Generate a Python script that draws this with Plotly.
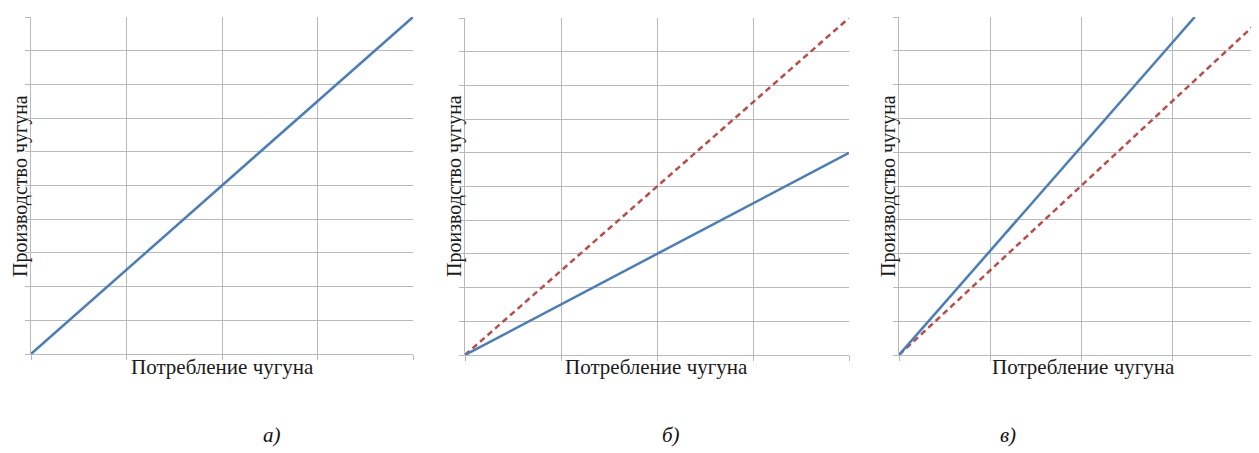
import plotly.graph_objects as go

# The page body has an 8px default margin; compensate
OFF = 8
W, H = 1259 - OFF, 453 - OFF

# Data
a_blue_x = [0, 4]
a_blue_y = [0, 10]

b_red_x = [0, 4]
b_red_y = [0, 10]
b_blue_x = [0, 4]
b_blue_y = [0, 6]

c_red_x = [0, 4]
c_red_y = [0, 10]
c_blue_x = [0, 3.25]
c_blue_y = [0, 10]

x_title = "Потребление чугуна"
y_title = "Производство чугуна"
panel_labels = ["а)", "б)", "в)"]

BLUE = "#4A7EBB"
RED = "#BE4B48"
GRID = "#B9B9B9"
FONT = "Liberation Serif"

def px_x(p):
    return (p - OFF) / W

def px_y(p):
    return (H - (p - OFF)) / H

fig = go.Figure()

panels = [
    dict(xd=(31, 413), yd=(17, 354), xr=[0, 4]),
    dict(xd=(465, 849), yd=(18, 355), xr=[0, 4]),
    dict(xd=(899, 1259), yd=(17, 355), xr=[0, 4 * (1259 - 899) / (1263 - 899)]),
]

for i, p in enumerate(panels):
    sfx = "" if i == 0 else str(i + 1)
    fig.update_layout({
        "xaxis" + sfx: dict(
            domain=[px_x(p["xd"][0]), min(1.0, px_x(p["xd"][1]))],
            range=p["xr"], dtick=1, tick0=0,
            showgrid=True, gridcolor=GRID, gridwidth=1,
            showline=True, linecolor=GRID, linewidth=1,
            ticks="outside", ticklen=5, tickcolor=GRID,
            showticklabels=False, zeroline=False,
            anchor="y" + sfx, fixedrange=True,
        ),
        "yaxis" + sfx: dict(
            domain=[px_y(p["yd"][1]), px_y(p["yd"][0])],
            range=[0, 10], dtick=1, tick0=0,
            showgrid=True, gridcolor=GRID, gridwidth=1,
            showline=True, linecolor=GRID, linewidth=1,
            ticks="outside", ticklen=5, tickcolor=GRID,
            showticklabels=False, zeroline=False,
            anchor="x" + sfx, fixedrange=True,
        ),
    })

def add_line(x, y, idx, color, dash=None):
    sfx = "" if idx == 0 else str(idx + 1)
    fig.add_trace(go.Scatter(
        x=x, y=y, mode="lines",
        line=dict(color=color, width=2.5, dash=dash),
        xaxis="x" + sfx, yaxis="y" + sfx, showlegend=False,
        cliponaxis=True,
    ))

add_line(a_blue_x, a_blue_y, 0, BLUE)
add_line(b_red_x, b_red_y, 1, RED, "6px,4px")
add_line(b_blue_x, b_blue_y, 1, BLUE)
add_line(c_red_x, c_red_y, 2, RED, "6px,4px")
add_line(c_blue_x, c_blue_y, 2, BLUE)

annotations = []
xt_centers = [222, 656, 1083]
yt_centers = [20, 454, 888]
lab_centers = [272, 671, 1008]
for i in range(3):
    annotations.append(dict(
        text=x_title, x=px_x(xt_centers[i]), y=px_y(367), xref="paper", yref="paper",
        xanchor="center", yanchor="middle", showarrow=False,
        font=dict(family=FONT, size=21, color="#1a1a1a"),
    ))
    annotations.append(dict(
        text=y_title, x=px_x(yt_centers[i]), y=px_y(186), xref="paper", yref="paper",
        xanchor="center", yanchor="middle", showarrow=False, textangle=-90,
        font=dict(family=FONT, size=20, color="#1a1a1a"),
    ))
    annotations.append(dict(
        text="<i>" + panel_labels[i] + "</i>", x=px_x(lab_centers[i]), y=px_y(435),
        xref="paper", yref="paper",
        xanchor="center", yanchor="middle", showarrow=False,
        font=dict(family=FONT, size=21, color="#111111"),
    ))

fig.update_layout(
    width=W, height=H,
    margin=dict(l=0, r=0, t=0, b=0),
    paper_bgcolor="white", plot_bgcolor="white",
    annotations=annotations,
)

fig.write_html("out.html", config={"displayModeBar": False})
